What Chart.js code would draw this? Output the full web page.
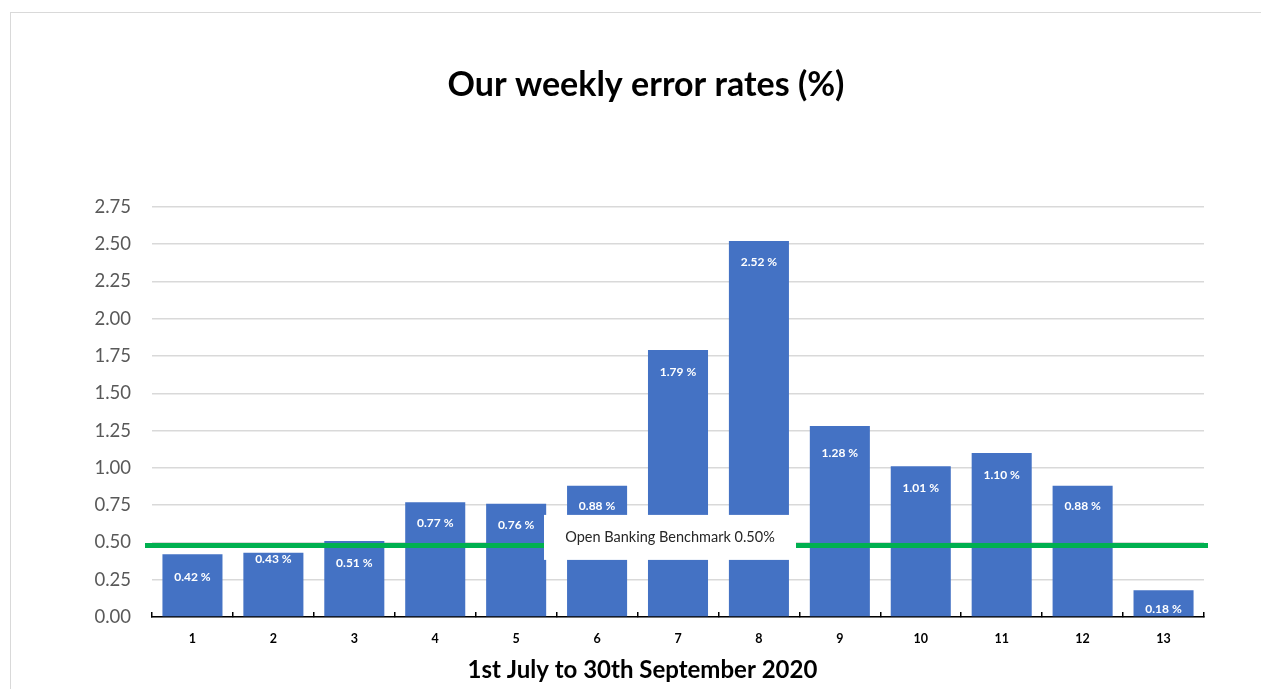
<!DOCTYPE html>
<html>
<head>
<meta charset="utf-8">
<script src="https://cdn.jsdelivr.net/npm/chart.js@4.4.1/dist/chart.umd.min.js"></script>
<style>
  html, body { margin: 0; padding: 0; background: #ffffff; }
  #wrap { position: relative; width: 1261px; height: 689px; overflow: hidden; }
  #frame { position: absolute; left: 10px; top: 12px; width: 1300px; height: 700px;
           border-left: 1.5px solid #d9d9d9; border-top: 1.5px solid #d9d9d9; box-sizing: border-box; }
  canvas { position: absolute; left: 0; top: 0; }
</style>
</head>
<body>
<div id="wrap">
  <div id="frame"></div>
  <canvas id="c" width="1261" height="689"></canvas>
</div>
<script>
// ---- data ----
const weeks = ['1','2','3','4','5','6','7','8','9','10','11','12','13'];
const errorRates = [0.42, 0.43, 0.51, 0.77, 0.76, 0.88, 1.79, 2.52, 1.28, 1.01, 1.10, 0.88, 0.18];
const benchmarkValue = 0.48;
const benchmarkLabel = 'Open Banking Benchmark 0.50%';
const yTickValues = [0, 0.25, 0.5, 0.75, 1, 1.25, 1.5, 1.75, 2, 2.25, 2.5, 2.75];
const chartTitle = 'Our weekly error rates (%)';
const xAxisTitle = '1st July to 30th September 2020';

// ---- styling (not data) ----
const FONT = 'Lato, "Open Sans", sans-serif';
const labelDrop = [23, 6, 22, 21, 21, 20, 22, 21, 27, 22, 22, 20, 19];

const benchmarkPlugin = {
  id: 'benchmark',
  afterDatasetsDraw(chart) {
    const {ctx, chartArea, scales} = chart;
    const y = scales.y.getPixelForValue(benchmarkValue);
    ctx.save();
    // data labels
    const meta = chart.getDatasetMeta(0);
    ctx.fillStyle = '#ffffff';
    ctx.font = 'bold 12px ' + FONT;
    ctx.textAlign = 'center';
    ctx.textBaseline = 'middle';
    meta.data.forEach((bar, i) => {
      ctx.fillText(errorRates[i].toFixed(2) + ' %', bar.x, bar.y + labelDrop[i]);
    });
    // benchmark line
    ctx.strokeStyle = '#00b050';
    ctx.lineWidth = 5;
    ctx.beginPath();
    ctx.moveTo(chartArea.left - 7, y);
    ctx.lineTo(chartArea.right + 4, y);
    ctx.stroke();
    // label box
    const cx = chartArea.left + (chartArea.right - chartArea.left) * 0.4924;
    const cy = y - 8;
    const w = 252, h = 45;
    ctx.fillStyle = '#ffffff';
    ctx.fillRect(cx - w / 2, cy - h / 2, w, h);
    ctx.fillStyle = '#262626';
    ctx.font = '14.5px ' + FONT;
    ctx.fillText(benchmarkLabel, cx, cy);
    // x axis title
    ctx.fillStyle = '#000000';
    ctx.font = 'bold 24px ' + FONT;
    ctx.fillText(xAxisTitle, chartArea.left + (chartArea.right - chartArea.left) * 0.4662, 670);
    ctx.restore();
  }
};

new Chart(document.getElementById('c'), {
  type: 'bar',
  data: {
    labels: weeks,
    datasets: [{
      data: errorRates,
      backgroundColor: '#4472c4',
      borderWidth: 0,
      barPercentage: 0.742,
      categoryPercentage: 1.0
    }]
  },
  options: {
    responsive: false,
    animation: false,
    devicePixelRatio: 1,
    layout: { padding: { left: 88, right: 57, top: 0, bottom: 0 } },
    plugins: {
      legend: { display: false },
      tooltip: { enabled: false },
      title: {
        display: true,
        text: chartTitle,
        color: '#000000',
        font: { family: FONT, size: 34, weight: 'bold' },
        padding: { top: 65, bottom: 101 }
      }
    },
    scales: {
      x: {
        afterFit(s) { s.height = 72; },
        grid: { display: true, drawOnChartArea: false, drawTicks: true, tickLength: -5, color: '#000000', lineWidth: 1.5 },
        border: { display: true, color: '#000000', width: 1.5 },
        ticks: { color: '#000000', font: { family: FONT, size: 12.5, weight: 'bold' }, padding: 19, maxRotation: 0 }
      },
      y: {
        min: 0, max: 2.75,
        afterFit(s) { s.width = 64; },
        afterBuildTicks(s) { s.ticks = yTickValues.map(v => ({ value: v })); },
        grid: { color: '#d9d9d9', lineWidth: 1.5, drawTicks: false },
        border: { display: false },
        ticks: {
          color: '#595959',
          font: { family: FONT, size: 18.5 },
          padding: 21,
          callback: v => Number(v).toFixed(2)
        }
      }
    }
  },
  plugins: [benchmarkPlugin]
});
</script>
</body>
</html>
